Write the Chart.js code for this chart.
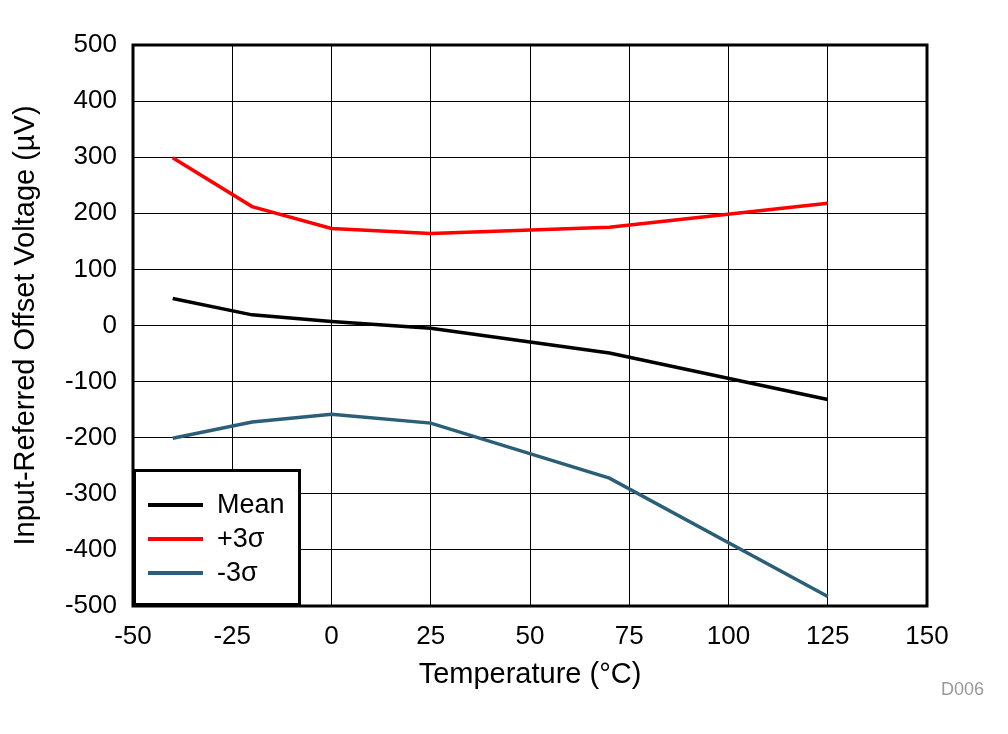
<!DOCTYPE html>
<html>
<head>
<meta charset="utf-8">
<script src="https://cdn.jsdelivr.net/npm/chart.js@4"></script>
<style>
  html, body { margin: 0; padding: 0; background: #fff; }
  #wrap { width: 1008px; height: 734px; }
</style>
</head>
<body>
<div id="wrap"><canvas id="offsetChart" width="1008" height="734"></canvas></div>
<script>
// Temperature points (°C)
const temps = [-40, -20, 0, 25, 70, 125];

// Input-referred offset voltage (µV)
const meanVals = [48, 19, 7, -5, -49, -132];
const plus3Vals = [299, 212, 173, 164, 175, 218];
const minus3Vals = [-201, -172, -158, -174, -272, -483];

const seriesNames = ['Mean', '+3\u03C3', '-3\u03C3'];
const seriesColors = ['#000000', '#FF0000', '#2B5F78'];

const xTicks = [-50, -25, 0, 25, 50, 75, 100, 125, 150];
const yTicks = [-500, -400, -300, -200, -100, 0, 100, 200, 300, 400, 500];

const FONT = '"Liberation Sans", Arial, sans-serif';

function toPoints(vals) {
  return temps.map((t, i) => ({ x: t, y: vals[i] }));
}

// frame, inset legend and the figure tag
const framePlugin = {
  id: 'framePlugin',
  afterDatasetsDraw(chart) {
    const { ctx, chartArea: a } = chart;
    ctx.save();

    // legend box in lower-left corner
    const bw = 168, bh = 137;
    const bx = a.left, by = a.bottom - bh;
    ctx.fillStyle = '#fff';
    ctx.fillRect(bx, by, bw, bh);
    ctx.lineWidth = 3;
    ctx.strokeStyle = '#000';
    ctx.strokeRect(bx + 1.5, by + 1.5, bw - 3, bh - 3);

    ctx.font = '27px ' + FONT;
    ctx.textBaseline = 'middle';
    ctx.textAlign = 'left';
    chart.data.datasets.slice().reverse().forEach((ds, i) => {
      const yy = by + 36 + i * 34;
      ctx.strokeStyle = ds.borderColor;
      ctx.lineWidth = 4;
      ctx.beginPath();
      ctx.moveTo(bx + 15, yy);
      ctx.lineTo(bx + 70, yy);
      ctx.stroke();
      ctx.fillStyle = '#000';
      ctx.fillText(ds.label, bx + 84, yy + 1);
    });

    // thick outer frame of the plot area
    ctx.lineWidth = 3;
    ctx.strokeStyle = '#000';
    ctx.strokeRect(a.left, a.top, a.right - a.left, a.bottom - a.top);
    ctx.restore();
  },
  afterDraw(chart) {
    const { ctx } = chart;
    ctx.save();
    ctx.font = '18px ' + FONT;
    ctx.fillStyle = '#999';
    ctx.textAlign = 'right';
    ctx.textBaseline = 'middle';
    ctx.fillText('D006', 984, 690);
    ctx.restore();
  }
};

new Chart(document.getElementById('offsetChart').getContext('2d'), {
  type: 'line',
  data: {
    datasets: [
      { label: seriesNames[2], data: toPoints(minus3Vals), borderColor: seriesColors[2] },
      { label: seriesNames[1], data: toPoints(plus3Vals), borderColor: seriesColors[1] },
      { label: seriesNames[0], data: toPoints(meanVals), borderColor: seriesColors[0] }
    ].map(d => Object.assign(d, {
      borderWidth: 3.5,
      pointRadius: 0,
      tension: 0,
      fill: false
    }))
  },
  options: {
    responsive: false,
    animation: false,
    layout: { padding: { left: 0, top: 45, right: 81, bottom: 38 } },
    plugins: {
      legend: { display: false },
      tooltip: { enabled: false }
    },
    scales: {
      x: {
        type: 'linear',
        min: -50,
        max: 150,
        afterBuildTicks: axis => { axis.ticks = xTicks.map(v => ({ value: v })); },
        afterFit: axis => { axis.height = 90; },
        grid: { color: '#000', lineWidth: 1, drawTicks: false },
        border: { display: false },
        ticks: { color: '#000', font: { family: FONT, size: 26 }, padding: 15, maxRotation: 0 },
        title: {
          display: true,
          text: 'Temperature (\u00B0C)',
          color: '#000',
          font: { family: FONT, size: 29 },
          padding: { top: 0, bottom: 4 }
        }
      },
      y: {
        type: 'linear',
        min: -500,
        max: 500,
        afterBuildTicks: axis => { axis.ticks = yTicks.map(v => ({ value: v })); },
        afterFit: axis => { axis.width = 133; },
        grid: { color: '#000', lineWidth: 1, drawTicks: false },
        border: { display: false },
        ticks: { color: '#000', font: { family: FONT, size: 26 }, padding: 16 },
        title: {
          display: true,
          text: 'Input-Referred Offset Voltage (\u00B5V)',
          color: '#000',
          font: { family: FONT, size: 29 },
          padding: { top: 9, bottom: 0 }
        }
      }
    }
  },
  plugins: [framePlugin]
});
</script>
</body>
</html>
